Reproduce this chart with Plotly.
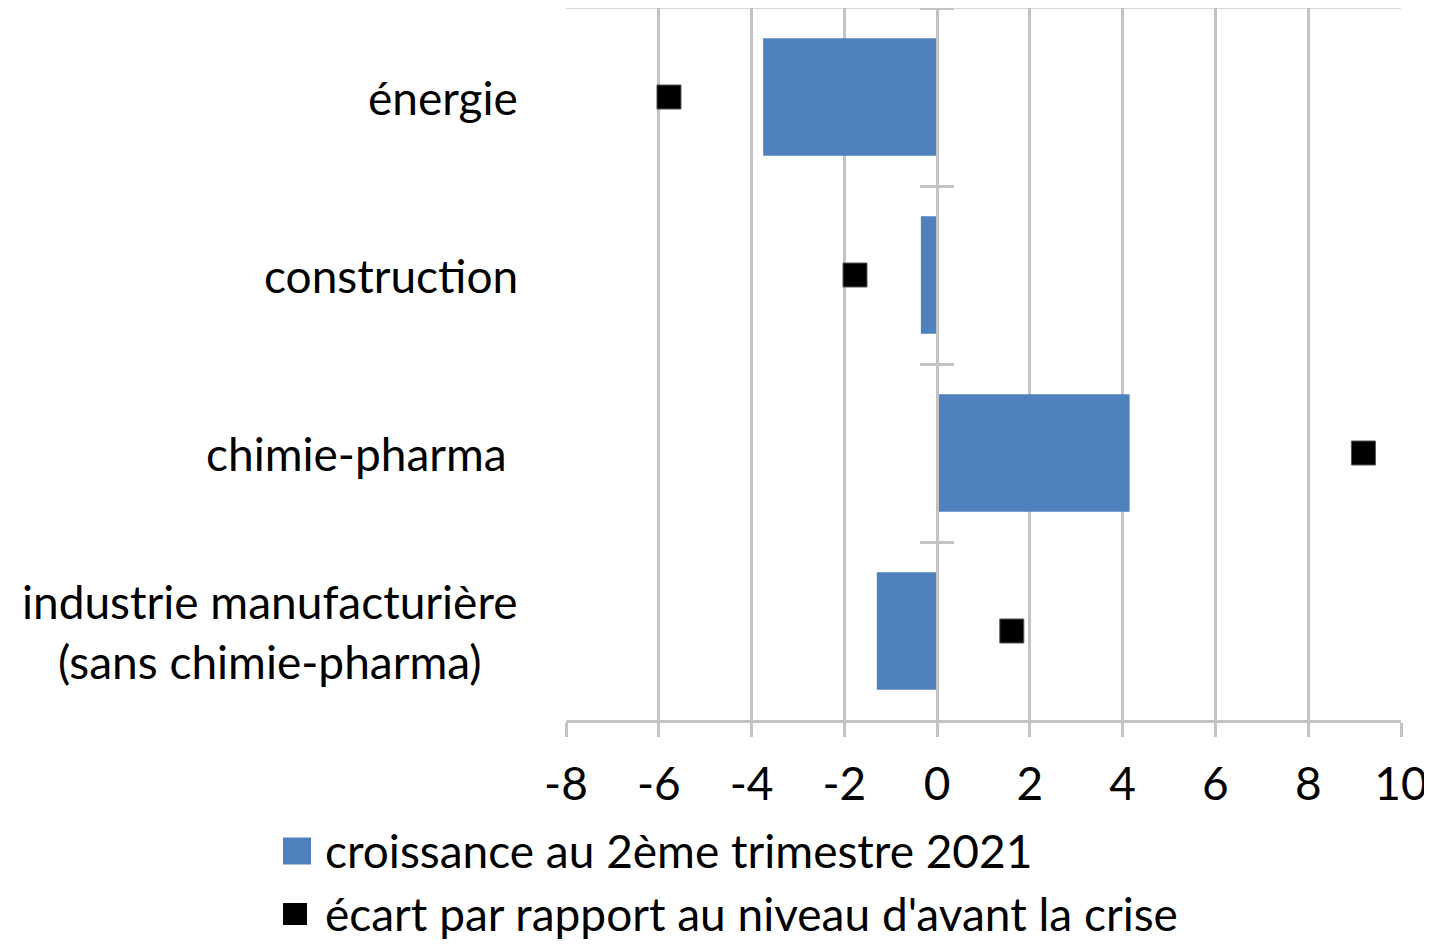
import plotly.graph_objects as go

categories = ["énergie", "construction", "chimie-pharma", "industrie manufacturière<br>(sans chimie-pharma)"]
cat_labels = ["énergie", "construction", "chimie-pharma\u00a0", "industrie manufacturière<br>(sans chimie-pharma)"]
croissance_t2_2021 = [-3.75, -0.35, 4.15, -1.30]
ecart_avant_crise = [-5.78, -1.77, 9.19, 1.61]
x_ticks = [-8, -6, -4, -2, 0, 2, 4, 6, 8, 10]
legend_names = ["croissance au 2ème trimestre 2021", "écart par rapport au niveau d'avant la crise"]

BLUE = "#4F81BD"
GRID = "#C3C3C3"
FONT = "Lato"
FS = 46
OFF = 8  # page body margin
W, H = 1432 - OFF, 944 - OFF
PL, PT, PR, PB = 566, 8, 1401, 720  # plot area in screen pixels
L, T = PL - OFF, PT - OFF
R, B = W - (PR - OFF), H - (PB - OFF)
PW, PH = W - L - R, H - T - B


def px(xs):
    return (xs - OFF - L) / PW


def py(ys):
    return (H - B - (ys - OFF)) / PH


fig = go.Figure()
fig.add_trace(go.Bar(
    y=categories, x=croissance_t2_2021, orientation="h",
    marker=dict(color=BLUE, line=dict(width=0)), width=0.66,
    name=legend_names[0], showlegend=False,
))
fig.add_trace(go.Scatter(
    y=categories, x=ecart_avant_crise, mode="markers",
    marker=dict(symbol="square", size=24, color="black", line=dict(width=1, color="#555555")),
    name=legend_names[1], showlegend=False,
))

# invisible helper traces for the category axis crossing at zero
for ax in ["y2", "y3"]:
    fig.add_trace(go.Scatter(y=categories, x=[0, 0, 0, 0], yaxis=ax, mode="markers",
                             marker=dict(opacity=0), showlegend=False, hoverinfo="skip"))

yrange = [3.5, -0.5]
fig.update_layout(
    width=W, height=H,
    margin=dict(l=L, r=R, t=T, b=B, pad=0),
    plot_bgcolor="white", paper_bgcolor="white",
    font=dict(family=FONT, size=FS, color="black"),
    xaxis=dict(
        range=[-8, 10], tickvals=x_ticks, ticktext=[str(v) for v in x_ticks],
        showgrid=True, gridcolor=GRID, gridwidth=3,
        zeroline=False,
        showline=True, linecolor=GRID, linewidth=3,
        ticks="outside", ticklen=14, tickwidth=3, tickcolor=GRID,
        tickfont=dict(family=FONT, size=FS, color="black"),
        ticklabelstandoff=8, ticklabeloverflow="allow",
    ),
    yaxis=dict(
        type="category", categoryarray=categories, range=yrange,
        showticklabels=False, showgrid=False, zeroline=False, showline=False, ticks="",
    ),
    yaxis2=dict(
        type="category", categoryarray=categories, range=yrange, overlaying="y",
        anchor="free", position=8 / 18, side="left",
        showticklabels=False, showgrid=False, zeroline=False,
        showline=True, linecolor=GRID, linewidth=3,
        ticks="outside", tickson="boundaries", ticklen=16, tickwidth=3, tickcolor=GRID,
    ),
    yaxis3=dict(
        type="category", categoryarray=categories, range=yrange, overlaying="y",
        anchor="free", position=8 / 18, side="right",
        showticklabels=False, showgrid=False, zeroline=False,
        showline=False,
        ticks="outside", tickson="boundaries", ticklen=16, tickwidth=3, tickcolor=GRID,
    ),
    showlegend=False,
)

# category labels
for cat, lab in zip(categories, cat_labels):
    fig.add_annotation(
        x=px(520), xref="paper", y=cat, yref="y", text=lab, showarrow=False,
        xanchor="right", yanchor="middle", align="center",
        font=dict(family=FONT, size=FS, color="black"),
    )

# top border of the plot area
fig.add_shape(type="line", xref="paper", yref="paper", x0=0, x1=1, y0=1, y1=1,
              line=dict(color="#D9D9D9", width=2), layer="below")

# legend (drawn below the chart): colour, centre y, width, height
leg = [(BLUE, 851, 28, 27), ("black", 914, 24, 22)]
for (col, yc, sw, sh), name in zip(leg, legend_names):
    fig.add_shape(type="rect", xref="paper", yref="paper",
                  x0=px(283), x1=px(283 + sw), y0=py(yc + sh / 2), y1=py(yc - sh / 2),
                  fillcolor=col, line=dict(width=0))
    fig.add_annotation(x=px(323), xref="paper", y=py(yc - 1), yref="paper", text=name,
                       showarrow=False, xanchor="left", yanchor="middle",
                       font=dict(family=FONT, size=FS, color="black"))

fig.write_html(
    "out.html",
    post_script="document.documentElement.style.overflow='hidden';document.body.style.overflow='hidden';",
)
